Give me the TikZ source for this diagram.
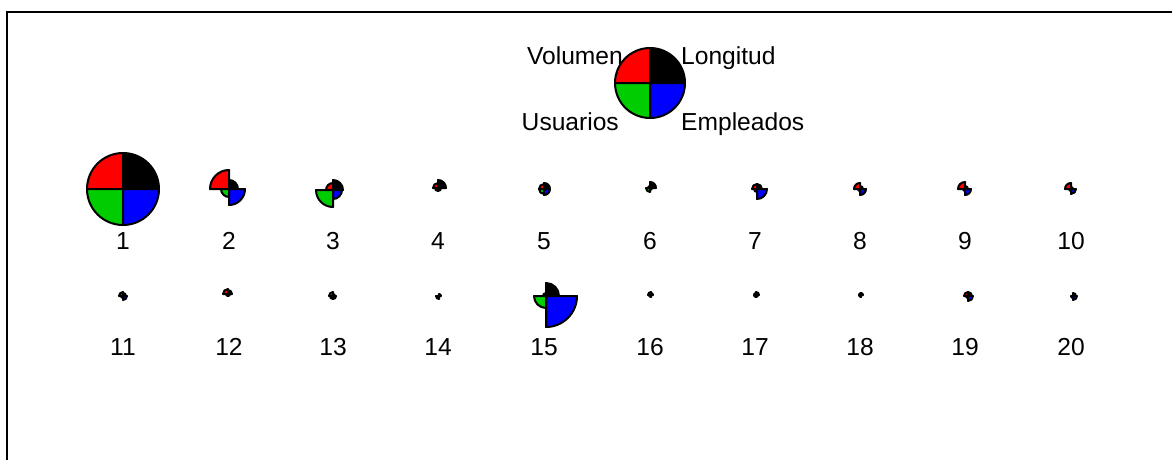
\documentclass[tikz,border=0pt]{standalone}
\usepackage{fontspec}
\setmainfont{Liberation Sans}
\tikzset{
  seg/.style={draw=black,line width=2pt,line join=round},
  lab/.style={font=\fontsize{24.6}{28}\selectfont,inner sep=0pt},
  frameline/.style={draw=black,line width=2pt}
}
\newcommand{\starglyph}[7]{%
  \coordinate (#1) at (#2,#3);
  \filldraw[seg,fill=black] (#1) -- ++(0:#4pt) arc (0:90:#4pt) -- cycle;
  \filldraw[seg,fill=red] (#1) -- ++(90:#5pt) arc (90:180:#5pt) -- cycle;
  \filldraw[seg,fill={rgb,255:red,0;green,205;blue,0}] (#1) -- ++(180:#6pt) arc (180:270:#6pt) -- cycle;
  \filldraw[seg,fill=blue] (#1) -- ++(270:#7pt) arc (270:360:#7pt) -- cycle;
}
\begin{document}
\begin{tikzpicture}[x=1pt,y=-1pt]
\useasboundingbox (0,0) rectangle (1172,460);
% frame
\coordinate (fbl) at (6.5,461);
\coordinate (ftl) at (6.5,12.5);
\coordinate (ftr) at (1173,12.5);
\draw[frameline] (fbl) -- (ftl) -- (ftr);
% key
\starglyph{key}{650}{83}{35}{35}{35}{35}
\node[lab,anchor=base east] (kv) at (623,64.5) {Volumen};
\node[lab,anchor=base west] (kl) at (681,64.5) {Longitud};
\node[lab,anchor=base east] (ku) at (619,130.5) {Usuarios};
\node[lab,anchor=base west] (ke) at (681,130.5) {Empleados};
% row 1
\starglyph{s1}{123}{189}{36}{36}{36}{36}
\starglyph{s2}{229}{189}{9}{19}{8}{16}
\starglyph{s3}{333}{190}{10}{7}{17}{9}
\starglyph{s4}{438}{188}{8}{5}{3}{3}
\starglyph{s5}{544}{189}{6}{5}{5}{6}
\starglyph{s6}{650}{188}{6}{2}{4}{2}
\starglyph{s7}{757}{189}{5}{5}{3}{10}
\starglyph{s8}{860}{189}{3}{6}{2}{6}
\starglyph{s9}{965}{189}{3}{7}{2}{6}
\starglyph{s10}{1071}{189}{2}{6}{2}{5}
% row 2
\starglyph{s11}{123}{296}{3}{4}{2}{4}
\starglyph{s12}{228}{294}{4}{5}{2}{2}
\starglyph{s13}{333}{296}{2}{4}{3}{3}
\starglyph{s14}{439}{296}{2}{1}{3}{1}
\starglyph{s15}{546}{296}{13}{3}{12}{31}
\starglyph{s16}{651}{295}{2}{3}{2}{1}
\starglyph{s17}{756}{295}{3}{2}{2}{2}
\starglyph{s18}{861}{295}{2}{2}{2}{1}
\starglyph{s19}{968}{296}{4}{4}{2}{5}
\starglyph{s20}{1073}{296}{3}{1}{2}{4}
% labels
\foreach \i/\x in {1/123,2/229,3/333,4/438,5/544,6/650,7/755,8/860,9/965,10/1071}{
  \node[lab,anchor=base] (n\i) at (\x,249.5) {\i};
}
\foreach \i/\x in {11/123,12/229,13/333,14/438,15/544,16/650,17/755,18/860,19/965,20/1071}{
  \node[lab,anchor=base] (n\i) at (\x,355.5) {\i};
}
\end{tikzpicture}
\end{document}
